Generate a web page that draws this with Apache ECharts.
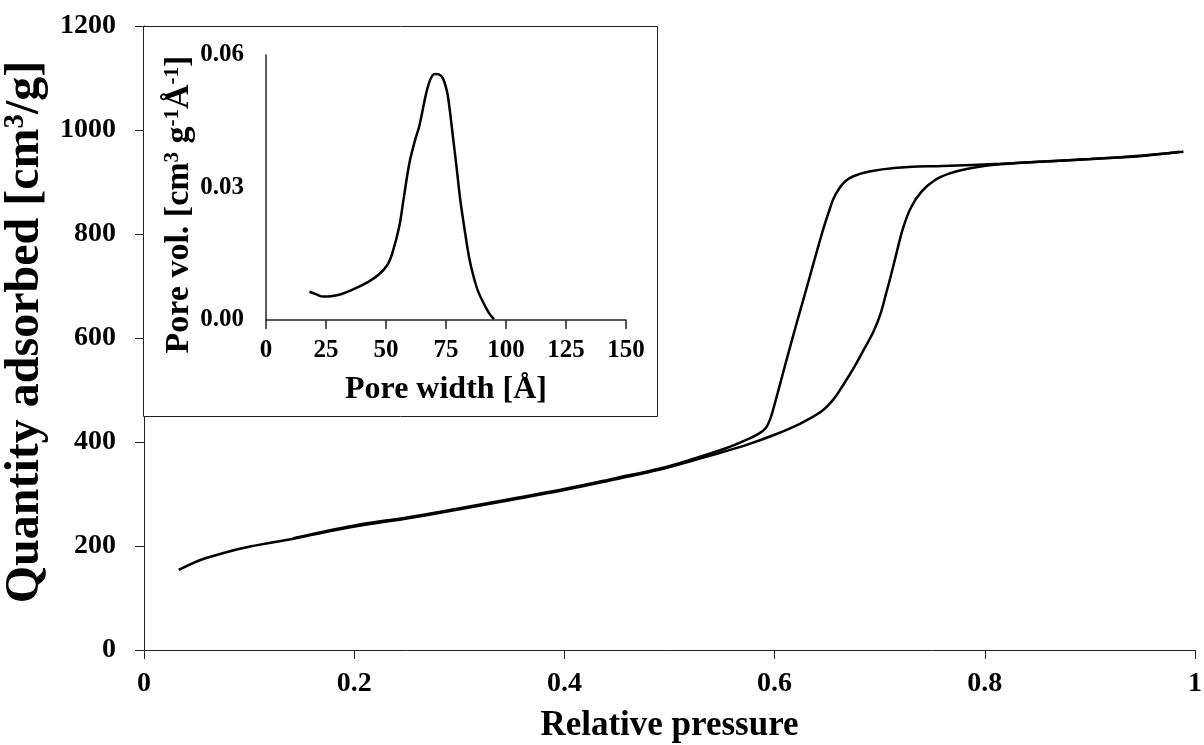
<!DOCTYPE html>
<html>
<head>
<meta charset="utf-8">
<script src="https://cdn.jsdelivr.net/npm/echarts@6/dist/echarts.min.js"></script>
<style>html,body{margin:0;padding:0;background:#fff}#c{width:1204px;height:745px}</style>
</head>
<body>
<div id="c"></div>
<script>
// Main isotherm: adsorption branch [relative pressure, quantity adsorbed]
var adsorption = [
  [0.033,154],[0.055,174],[0.08,189],[0.101,199],[0.142,214],[0.199,237],[0.25,253],
  [0.282,264],[0.345,287],[0.401,308],[0.45,329],[0.491,347],[0.52,363],[0.546,378],
  [0.574,395],[0.6,414],[0.625,436],[0.644,458],[0.656,482],[0.666,512],[0.676,545],
  [0.685,578],[0.694,612],[0.701,648],[0.706,685],[0.710,715],[0.715,755],[0.722,810],
  [0.730,852],[0.740,882],[0.752,903],[0.766,916],[0.785,926],[0.815,934],[0.86,940],
  [0.91,945],[0.95,950],[0.985,958]
];
// Desorption branch
var desorption = [
  [0.989,958],[0.95,951],[0.9,944],[0.86,940],[0.815,935],[0.76,931],[0.714,927],
  [0.69,920],[0.675,911],[0.667,901],[0.661,886],[0.656,868],[0.652,845],[0.647,814],
  [0.639,758],[0.631,700],[0.623,643],[0.615,585],[0.607,525],[0.603,495],[0.599,465],
  [0.596,445],[0.592,428],[0.585,416],[0.574,405],[0.555,389],[0.52,366],[0.491,349],
  [0.45,331],[0.401,310],[0.345,289],[0.282,266],[0.25,255],[0.199,239],[0.142,215]
];
// Inset: pore size distribution [pore width (Å), pore volume]
var poreDist = [
  [18.1,0.0064],[21,0.0058],[23.7,0.0053],[27,0.0054],[31.5,0.0059],[37,0.0071],
  [42.8,0.0087],[47,0.0103],[50.5,0.0124],[52.6,0.0151],[55.5,0.0211],[57.5,0.0280],
  [59.7,0.0354],[62,0.0405],[63.9,0.0440],[66.7,0.0512],[68.5,0.0545],[70.3,0.0557],
  [72,0.0556],[73.8,0.0546],[75.5,0.0515],[76.6,0.0474],[78,0.0410],[79.4,0.0346],
  [81,0.0270],[83,0.0196],[84.7,0.0140],[86.5,0.0098],[88.5,0.0063],[90.7,0.0038],
  [93,0.0015],[95,0.0002]
];
var mainXTicks = {min:0, max:1, interval:0.2};
var mainYTicks = {min:0, max:1200, interval:200};
var insetXTicks = {min:0, max:150, interval:25};
var insetYTicks = {min:0, max:0.06, interval:0.03};

var FF = '"Liberation Serif","Times New Roman",serif';
var chart = echarts.init(document.getElementById('c'));
var lineStyleAxis = {color:'#222', width:1};
chart.setOption({
  animation:false,
  backgroundColor:'#fff',
  grid:[
    {left:144, top:26, width:1051, height:624, containLabel:false, outerBoundsMode:'none'},
    {left:266, top:55, width:360, height:265, containLabel:false, outerBoundsMode:'none'}
  ],
  graphic:[{
    type:'rect', z:1,
    shape:{x:143.5, y:26.5, width:514, height:390},
    style:{fill:'#fff', stroke:'#222', lineWidth:1}
  }],
  xAxis:[
    {gridIndex:0, type:'value', min:mainXTicks.min, max:mainXTicks.max, interval:mainXTicks.interval,
     splitLine:{show:false},
     axisLine:{show:true, lineStyle:lineStyleAxis},
     axisTick:{show:true, inside:false, length:9, lineStyle:lineStyleAxis},
     axisLabel:{margin:20, fontFamily:FF, fontWeight:'bold', fontSize:28, color:'#000',
       formatter:function(v){return String(+v.toFixed(1));}},
     name:'Relative pressure', nameLocation:'middle', nameGap:58,
     nameTextStyle:{fontFamily:FF, fontWeight:'bold', fontSize:35, color:'#000'}
    },
    {gridIndex:1, type:'value', min:insetXTicks.min, max:insetXTicks.max, interval:insetXTicks.interval, z:5,
     splitLine:{show:false},
     axisLine:{show:true, lineStyle:{color:'#222', width:1.5}},
     axisTick:{show:true, inside:false, length:9, lineStyle:{color:'#222', width:1.5}},
     axisLabel:{margin:18, fontFamily:FF, fontWeight:'bold', fontSize:25, color:'#000',
       formatter:function(v){return String(v);}},
     name:'Pore width [Å]', nameLocation:'middle', nameGap:54,
     nameTextStyle:{fontFamily:FF, fontWeight:'bold', fontSize:32, color:'#000'}
    }
  ],
  yAxis:[
    {gridIndex:0, type:'value', min:mainYTicks.min, max:mainYTicks.max, interval:mainYTicks.interval,
     splitLine:{show:false},
     axisLine:{show:true, lineStyle:lineStyleAxis},
     axisTick:{show:true, inside:false, length:9, lineStyle:lineStyleAxis},
     axisLabel:{margin:28, fontFamily:FF, fontWeight:'bold', fontSize:28, color:'#000',
       formatter:function(v){return String(v);}},
     name:'{a|Quantity adsorbed [cm}{s|3}{a|/g]}', nameLocation:'middle', nameGap:85,
     nameTextStyle:{fontFamily:FF, fontWeight:'bold', fontSize:48, color:'#000', padding:[0,0,0,12],
       rich:{
         a:{fontFamily:FF, fontWeight:'bold', fontSize:48, color:'#000'},
         s:{fontFamily:FF, fontWeight:'bold', fontSize:29, color:'#000', verticalAlign:'top'}
       }}
    },
    {gridIndex:1, type:'value', min:insetYTicks.min, max:insetYTicks.max, interval:insetYTicks.interval, z:5,
     splitLine:{show:false},
     axisLine:{show:true, lineStyle:{color:'#222', width:1.5}},
     axisTick:{show:false},
     axisLabel:{margin:22, fontFamily:FF, fontWeight:'bold', fontSize:25, color:'#000',
       formatter:function(v){return v.toFixed(2);}},
     name:'{a|Pore vol. [cm}{s|3}{a| g}{s|-1}{a|Å}{s|-1}{a|]}', nameLocation:'middle', nameGap:68,
     nameTextStyle:{fontFamily:FF, fontWeight:'bold', fontSize:34, color:'#000', padding:[0,34,0,0],
       rich:{
         a:{fontFamily:FF, fontWeight:'bold', fontSize:34, color:'#000'},
         s:{fontFamily:FF, fontWeight:'bold', fontSize:21, color:'#000', verticalAlign:'top'}
       }}
    }
  ],
  series:[
    {type:'line', xAxisIndex:0, yAxisIndex:0, data:adsorption, smooth:0.35, showSymbol:false,
     lineStyle:{color:'#000', width:2.5}, z:2},
    {type:'line', xAxisIndex:0, yAxisIndex:0, data:desorption, smooth:0.35, showSymbol:false,
     lineStyle:{color:'#000', width:2.5}, z:2},
    {type:'line', xAxisIndex:1, yAxisIndex:1, data:poreDist, smooth:0.35, showSymbol:false,
     lineStyle:{color:'#000', width:2.5}, z:6}
  ]
});
</script>
</body>
</html>
